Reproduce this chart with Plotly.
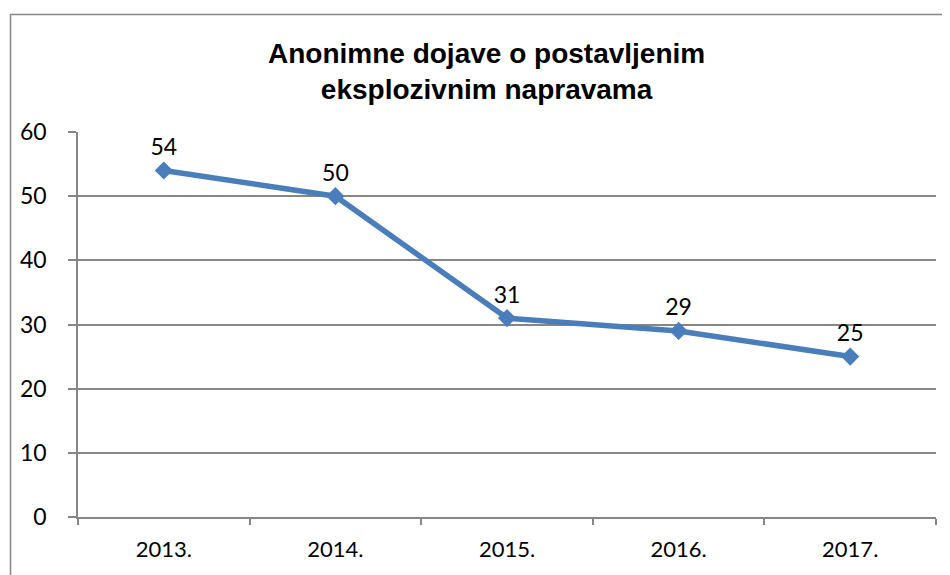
import plotly.graph_objects as go

years = ["2013.", "2014.", "2015.", "2016.", "2017."]
values = [54, 50, 31, 29, 25]
y_ticks = [0, 10, 20, 30, 40, 50, 60]
title_lines = ["Anonimne dojave o postavljenim", "eksplozivnim napravama"]

# page body has an 8px margin; figure coordinates below are screen - 8
OFF = 8
W, H = 942, 567
L, R, T, B = 78 - OFF, W - (936 - OFF), 132 - OFF, H - (517 - OFF)
pw, ph = W - L - R, H - T - B

def px_to_paper_x(px):
    return (px - OFF - L) / pw

def px_to_paper_y(py):
    return (H - B - (py - OFF)) / ph

line_color = "#4A7EBB"
axis_color = "#868686"
font_family = "Lato, 'Open Sans', sans-serif"

fig = go.Figure()
fig.add_trace(go.Scatter(
    x=years, y=values,
    mode="lines+markers+text",
    line=dict(color=line_color, width=5.5),
    marker=dict(symbol="diamond", size=14, color=line_color),
    text=[str(v) for v in values],
    textposition="top center",
    textfont=dict(family=font_family, size=23, color="#000000"),
    cliponaxis=False,
    showlegend=False,
))

fig.update_layout(
    width=W, height=H,
    margin=dict(l=L, r=R, t=T, b=B),
    paper_bgcolor="white", plot_bgcolor="white",
    annotations=[dict(
        text="<b>" + title_lines[0] + "</b><br><b>" + title_lines[1] + "</b>",
        xref="paper", yref="paper",
        x=px_to_paper_x(486), y=px_to_paper_y(36),
        xanchor="center", yanchor="top", showarrow=False,
        font=dict(family="Liberation Sans, Arial, sans-serif", size=28, color="#000000"),
        align="center",
    )],
    shapes=[dict(
        type="rect", xref="paper", yref="paper",
        x0=px_to_paper_x(10.5), x1=px_to_paper_x(970),
        y0=px_to_paper_y(600), y1=px_to_paper_y(14.5),
        line=dict(color=axis_color, width=1.5), fillcolor="rgba(0,0,0,0)",
        layer="below",
    )],
)

fig.update_xaxes(
    type="category", range=[-0.5, len(years) - 0.5], autorange=False,
    showline=True, linecolor=axis_color, linewidth=1.5,
    ticks="outside", tickson="boundaries", ticklen=6, tickwidth=1.5, tickcolor=axis_color,
    showgrid=False,
    tickfont=dict(family=font_family, size=22, color="#000000"),
    ticklabelstandoff=12,
)
fig.update_yaxes(
    range=[0, 60], tickvals=y_ticks,
    showline=True, linecolor=axis_color, linewidth=1.5,
    ticks="outside", ticklen=8, tickwidth=1.5, tickcolor=axis_color,
    showgrid=True, gridcolor=axis_color, gridwidth=1.5,
    zeroline=False,
    tickfont=dict(family=font_family, size=23, color="#000000"),
    ticklabelstandoff=17,
)

fig.write_html("out.html")
